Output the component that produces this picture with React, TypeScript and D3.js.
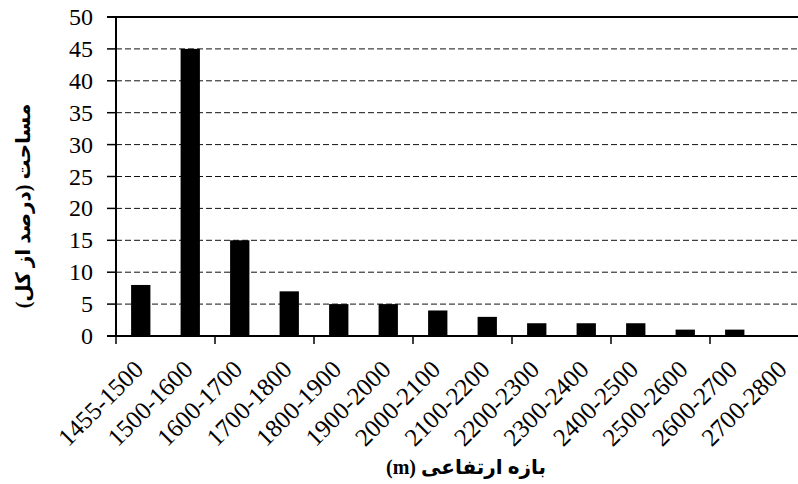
import { useEffect, useRef } from "react";
import * as d3 from "d3";

const categories = [
  "1455-1500", "1500-1600", "1600-1700", "1700-1800", "1800-1900", "1900-2000", "2000-2100",
  "2100-2200", "2200-2300", "2300-2400", "2400-2500", "2500-2600", "2600-2700", "2700-2800",
];
const areaPct = [8, 45, 15, 7, 5, 5, 4, 3, 2, 2, 2, 1, 1, 0];
const yTicks = [0, 5, 10, 15, 20, 25, 30, 35, 40, 45, 50];
const yTitle = "مساحت (درصد از کل)";
const xTitle = "بازه ارتفاعی (m)";

const SERIF = "Liberation Serif, Times New Roman, DejaVu Serif, serif";
const BOLD_AR = "Liberation Serif, DejaVu Sans, sans-serif";

/** D3 histogram of area share per elevation band. */
export default function App() {
  const ref = useRef<SVGSVGElement>(null);

  useEffect(() => {
    const el = ref.current;
    if (!el) return;
    const W = 798, H = 484, M = { top: 17, left: 116, bottom: 336, right: 809 };
    const svg = d3.select(el).attr("width", W).attr("height", H).attr("viewBox", `0 0 ${W} ${H}`);
    svg.selectAll("*").remove();

    const x = d3.scaleBand<string>().domain(categories).range([M.left, M.right]).paddingInner(0.61).paddingOuter(0.305);
    const y = d3.scaleLinear().domain([0, 50]).range([M.bottom, M.top]);

    // grid + y ticks
    yTicks.forEach((t) => {
      if (t > 0 && t < 50) {
        svg.append("line").attr("x1", M.left).attr("x2", W).attr("y1", y(t)).attr("y2", y(t))
          .attr("stroke", "#111").attr("stroke-width", 1).attr("stroke-dasharray", "6 3");
      }
      svg.append("line").attr("x1", M.left - 9).attr("x2", M.left).attr("y1", y(t)).attr("y2", y(t))
        .attr("stroke", "#000").attr("stroke-width", 1.5);
      svg.append("text").attr("x", 93).attr("y", y(t) + 8).attr("text-anchor", "end")
        .style("font-family", SERIF).attr("font-size", 24).attr("fill", "#000").text(t);
    });

    // bars
    svg.append("g").selectAll("rect").data(categories).join("rect")
      .attr("x", (d) => x(d) ?? 0).attr("width", x.bandwidth())
      .attr("y", (_d, i) => y(areaPct[i])).attr("height", (_d, i) => y(0) - y(areaPct[i]))
      .attr("fill", "#000");

    // frame: top, left, bottom
    svg.append("line").attr("x1", M.left - 9).attr("x2", W).attr("y1", y(50)).attr("y2", y(50)).attr("stroke", "#000").attr("stroke-width", 2);
    svg.append("line").attr("x1", M.left).attr("x2", M.left).attr("y1", y(50)).attr("y2", y(0)).attr("stroke", "#000").attr("stroke-width", 2);
    svg.append("line").attr("x1", M.left - 9).attr("x2", W).attr("y1", y(0)).attr("y2", y(0)).attr("stroke", "#000").attr("stroke-width", 2);

    // x ticks every second band boundary
    const off = x.step() * x.paddingOuter();
    categories.forEach((c, i) => {
      if (i % 2 !== 0) return;
      const bx = (x(c) ?? 0) - off;
      svg.append("line").attr("x1", bx).attr("x2", bx).attr("y1", y(0)).attr("y2", y(0) + 8).attr("stroke", "#000").attr("stroke-width", 1.5);
    });

    // x tick labels
    svg.append("g").selectAll("text").data(categories).join("text")
      .attr("transform", (d) => `translate(${(x(d) ?? 0) + x.bandwidth() / 2 + 4},371) rotate(-45)`)
      .attr("text-anchor", "end").style("font-family", SERIF).attr("font-size", 25).attr("fill", "#000")
      .text((d) => d);

    // axis titles
    svg.append("text").attr("transform", "translate(30,206) rotate(-90)")
      .attr("text-anchor", "middle").style("direction", "rtl")
      .style("font-family", BOLD_AR).attr("font-weight", "bold").attr("font-size", 20).attr("fill", "#000")
      .text(yTitle);
    svg.append("text").attr("x", 466).attr("y", 474)
      .attr("text-anchor", "middle").style("direction", "rtl")
      .style("font-family", BOLD_AR).attr("font-weight", "bold").attr("font-size", 20).attr("fill", "#000")
      .text(xTitle);
  }, []);

  return (
    <svg ref={ref} role="img" aria-label="Area by elevation band"
      style={{ position: "absolute", left: 0, top: 0, background: "#fff" }} />
  );
}
